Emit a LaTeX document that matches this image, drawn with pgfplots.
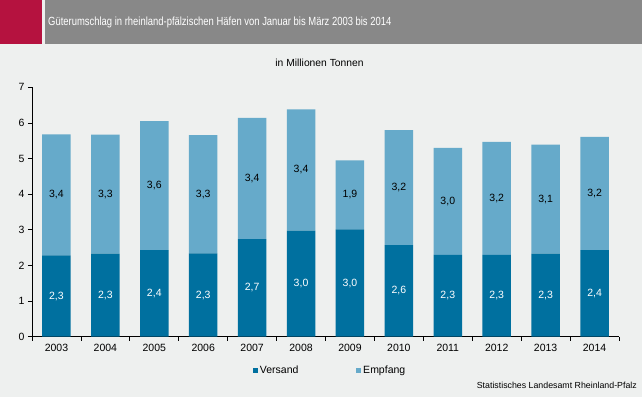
\documentclass[border=0pt]{standalone}
\usepackage{pgfplots}
\pgfplotsset{compat=1.18}
\usepackage{pgfplotstable}
\usepackage{fontspec}
\setmainfont{Liberation Sans}
\newfontfamily\narrowfont[FakeStretch=0.8]{Liberation Sans}
\definecolor{bg}{HTML}{EEF0EF}
\definecolor{hdr}{HTML}{888888}
\definecolor{redb}{HTML}{B5123F}
\definecolor{vers}{HTML}{00709F}
\definecolor{empf}{HTML}{66AACA}
\pgfplotstableread{
x v e
0 2.28 3.40
1 2.33 3.34
2 2.43 3.62
3 2.34 3.32
4 2.74 3.40
5 2.98 3.40
6 3.01 1.94
7 2.57 3.23
8 2.30 3.00
9 2.30 3.17
10 2.33 3.06
11 2.43 3.18
}\data
\begin{document}
\begin{tikzpicture}[x=1pt,y=1pt]
\fill[bg] (0,0) rectangle (642,397);
\fill[redb] (0,353) rectangle (42,397);
\fill[hdr] (44.5,353) rectangle (642,397);
\node[anchor=west, text=white, inner sep=0pt, font=\narrowfont\fontsize{11.8}{13}\selectfont] at (48,374.5) {Güterumschlag in rheinland-pfälzischen Häfen von Januar bis März 2003 bis 2014};
\node[font=\fontsize{10.3}{12}\selectfont] at (319.5,334.3) {in Millionen Tonnen};
\node[anchor=east, inner sep=0pt, font=\fontsize{8.8}{10}\selectfont] at (637,12) {Statistisches Landesamt Rheinland-Pfalz};
\begin{axis}[
  at={(32pt,60.3pt)}, anchor=south west,
  scale only axis, width=587pt, height=249.4pt,
  ybar stacked, bar width=28.5pt,
  xmin=-0.5, xmax=11.5, ymin=0, ymax=7,
  axis x line*=bottom, axis y line*=left,
  axis line style={black, line width=0.8pt},
  tick align=outside,
  xtick={0,...,11},
  xticklabels={2003,2004,2005,2006,2007,2008,2009,2010,2011,2012,2013,2014},
  major x tick style={draw=none},
  minor xtick={-0.5,0.5,...,11.5},
  minor tick length=4pt,
  minor x tick style={black, line width=0.8pt},
  ytick={0,...,7},
  major tick length=4pt,
  y tick style={black, line width=0.8pt},
  /pgf/number format/assume math mode=true,
  ticklabel style={font=\fontsize{10.5}{12}\selectfont},
  legend style={at={(0.508,-0.134)}, anchor=center, draw=none, fill=none,
    legend columns=2, font=\fontsize{10.5}{12}\selectfont,
    /tikz/every even column/.append style={column sep=56pt}},
  legend image code/.code={\fill[#1] (0pt,-2.4pt) rectangle (4.8pt,2.4pt);},
  nodes near coords={\pgfmathprintnumber[fixed,fixed zerofill,precision=1,use comma]{\pgfplotspointmeta}},
  point meta=explicit,
]
\addplot[fill=vers, draw=none,
  every node near coord/.append style={text=white, anchor=center, font=\fontsize{10.5}{12}\selectfont}]
  table[x=x, y=v, meta=v] {\data};
\addplot[fill=empf, draw=none,
  every node near coord/.append style={text=black, anchor=center, font=\fontsize{10.5}{12}\selectfont}]
  table[x=x, y=e, meta=e] {\data};
\legend{Versand, Empfang}
\end{axis}
\end{tikzpicture}
\end{document}
